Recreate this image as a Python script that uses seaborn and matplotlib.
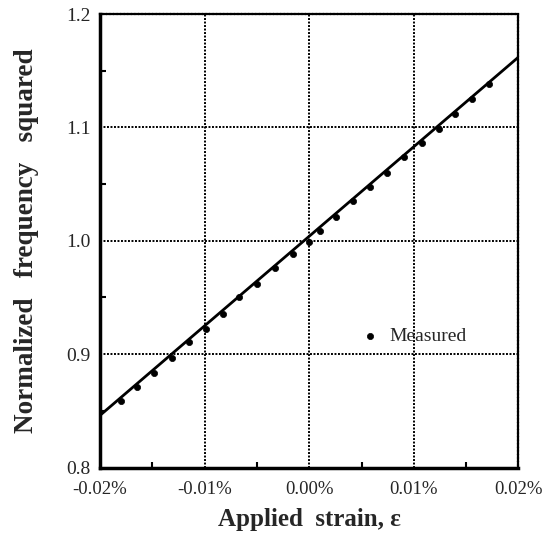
import matplotlib
matplotlib.use("Agg")
import matplotlib.pyplot as plt
from matplotlib.ticker import MultipleLocator, FixedLocator
import seaborn as sns
import pandas as pd

# Measured normalized frequency squared vs applied strain (strain in %)
strain_pct = [-0.0180, -0.0165, -0.0148, -0.0131, -0.0115, -0.0099, -0.0082,
              -0.0067, -0.0050, -0.0033, -0.0016, 0.0000, 0.0010, 0.0026,
              0.0042, 0.0058, 0.0074, 0.0091, 0.0108, 0.0124, 0.0139,
              0.0156, 0.0172]
freq_sq = [0.859, 0.871, 0.883, 0.897, 0.911, 0.922, 0.935,
           0.950, 0.962, 0.976, 0.988, 0.999, 1.009, 1.021,
           1.035, 1.047, 1.060, 1.074, 1.086, 1.099, 1.112,
           1.125, 1.138]

# Linear fit drawn across the full strain range
fit_strain = [-0.02, 0.02]
fit_value = [0.846, 1.162]

x_ticks = [-0.02, -0.01, 0.0, 0.01, 0.02]
x_tick_labels = ["-0.02%", "-0.01%", "0.00%", "0.01%", "0.02%"]
y_ticks = [0.8, 0.9, 1.0, 1.1, 1.2]
y_tick_labels = ["0.8", "0.9", "1.0", "1.1", "1.2"]

sns.set_style("white")
plt.rcParams["font.family"] = ["Liberation Serif", "DejaVu Serif"]

measured = pd.DataFrame({"strain": strain_pct, "f2": freq_sq})
fit = pd.DataFrame({"strain": fit_strain, "f2": fit_value})

fig = plt.figure(figsize=(5.46, 5.54), dpi=100)
ax = fig.add_axes([0.1832, 0.1561, 0.7664, 0.8186])

sns.lineplot(data=fit, x="strain", y="f2", ax=ax, color="black", lw=2.0,
             legend=False, zorder=3)
sns.scatterplot(data=measured, x="strain", y="f2", ax=ax, color="black",
                s=20, edgecolor="black", linewidth=0.5, zorder=4,
                label="Measured")

ax.set_xlim(-0.02, 0.02)
ax.set_ylim(0.8, 1.2)

ax.xaxis.set_major_locator(FixedLocator(x_ticks))
ax.set_xticklabels(x_tick_labels, fontsize=13.5)
ax.yaxis.set_major_locator(FixedLocator(y_ticks))
ax.set_yticklabels(y_tick_labels, fontsize=14)
ax.xaxis.set_minor_locator(MultipleLocator(0.005))
ax.yaxis.set_minor_locator(MultipleLocator(0.05))
ax.tick_params(which="major", length=0)
ax.tick_params(axis="x", which="major", pad=10)
ax.tick_params(axis="y", which="major", pad=7)
ax.tick_params(which="minor", direction="in", length=4, width=1.5,
               color="black", bottom=True, left=True)

ax.grid(True, which="major", color="black", linestyle=(0, (1, 0.8)),
        linewidth=1.4)

for side in ("left", "bottom"):
    ax.spines[side].set_linewidth(2.5)
    ax.spines[side].set_color("black")
for side in ("top", "right"):
    ax.spines[side].set_linewidth(1.6)
    ax.spines[side].set_color("black")
    ax.spines[side].set_linestyle((0, (1, 0.6)))

ax.set_xlabel("Applied  strain, \u03b5", fontsize=18, fontweight="bold",
              labelpad=7)
ax.set_ylabel("Normalized   frequency   squared", fontsize=19.5,
              fontweight="bold", labelpad=19)

leg = ax.legend(loc="center left", bbox_to_anchor=(0.58, 0.29), frameon=False,
                fontsize=14, handletextpad=0.5, markerscale=1.0,
                handlelength=1.0)

fig.savefig("out.png", dpi=100)
